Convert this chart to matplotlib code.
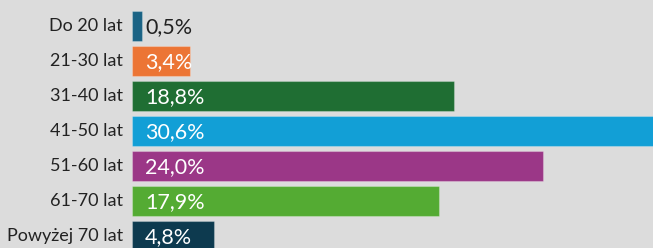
import numpy as np
from matplotlib import pyplot as plt

plt.rcParams['font.family'] = ['Lato', 'DejaVu Sans']

categories = ["Do 20 lat", "21-30 lat", "31-40 lat", "41-50 lat",
              "51-60 lat", "61-70 lat", "Powyżej 70 lat"]
values = [0.5, 3.4, 18.8, 30.6, 24.0, 17.9, 4.8]
value_labels = ["0,5%", "3,4%", "18,8%", "30,6%", "24,0%", "17,9%", "4,8%"]
colors = ["#1a6385", "#ec7535", "#1f6e33", "#129fd6",
          "#9b3787", "#54ab33", "#0d3a4f"]
label_colors = ["#222222"] + ["white"] * 6

W, H = 653, 248
BG = "#dcdcdc"
fig = plt.figure(figsize=(W / 100, H / 100), dpi=100, facecolor=BG)
ax = fig.add_axes([132 / W, 0, 1 - 132 / W, 1])
ax.set_facecolor(BG)

px_per_unit = 17.13
pitch = 35.0
y = np.arange(len(categories))
widths = [max(v, 0.6) for v in values]
ax.barh(y, widths, height=30 / pitch, color=colors,
        edgecolor=(1, 1, 1, 0.25), linewidth=0.8)

ax.set_xlim(0, (W - 132) / px_per_unit)
ax.set_ylim((H - 26) / pitch, -26 / pitch)
ax.axis('off')

for i, (cat, lab) in enumerate(zip(categories, value_labels)):
    ax.text(-9 / px_per_unit, i, cat, ha='right', va='center',
            fontsize=13, color="#222222", clip_on=False)
    ax.text(13 / px_per_unit, i + 0.02, lab, ha='left', va='center',
            fontsize=15.5, color=label_colors[i])

fig.savefig("out.png", dpi=100, facecolor=BG)
